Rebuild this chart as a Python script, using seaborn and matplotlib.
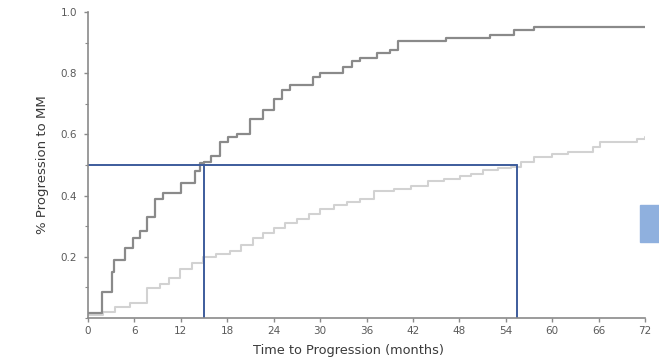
import matplotlib
matplotlib.use("Agg")
import matplotlib.pyplot as plt
import seaborn as sns
import pandas as pd
from matplotlib.patches import Rectangle
from matplotlib.ticker import MultipleLocator

# Dark curve (higher-risk group), step function
dark_t = [0, 1.8, 3.1, 3.4, 4.8, 5.8, 6.7, 7.6, 8.7, 9.7, 12.0, 13.8, 14.5, 15.0, 15.9,
          17.0, 18.1, 19.3, 21.0, 22.6, 24.0, 25.1, 26.1, 29.1, 30.0, 33.0, 34.1, 35.2,
          37.4, 39.0, 40.1, 46.2, 52.0, 55.0, 57.6, 72.0]
dark_p = [0.016, 0.084, 0.15, 0.19, 0.23, 0.26, 0.285, 0.33, 0.39, 0.41, 0.44, 0.48, 0.505, 0.51, 0.53,
          0.576, 0.59, 0.60, 0.65, 0.68, 0.715, 0.744, 0.76, 0.786, 0.80, 0.82, 0.84, 0.85,
          0.867, 0.877, 0.906, 0.916, 0.926, 0.94, 0.951, 0.951]

# Light curve (lower-risk group), step function
light_t = [0, 2.0, 3.5, 5.4, 7.6, 9.3, 10.5, 11.9, 13.4, 14.9, 16.5, 18.4, 19.8, 21.3, 22.6, 24.0,
           25.5, 27.0, 28.5, 30.0, 31.8, 33.5, 35.2, 36.9, 39.5, 41.7, 43.9, 46.0, 48.1, 49.5, 51.1,
           53.0, 54.6, 56.0, 57.6, 60.0, 62.0, 65.3, 66.2, 71.0, 72.0]
light_p = [0.01, 0.02, 0.035, 0.05, 0.097, 0.11, 0.13, 0.16, 0.18, 0.198, 0.21, 0.22, 0.24, 0.26, 0.278, 0.295,
           0.31, 0.323, 0.34, 0.356, 0.368, 0.38, 0.39, 0.414, 0.42, 0.43, 0.447, 0.455, 0.463, 0.472, 0.482,
           0.49, 0.495, 0.51, 0.527, 0.535, 0.544, 0.56, 0.576, 0.586, 0.59]

# Median reference lines
median_level = 0.5
median_dark = 15.0
median_light = 55.5

x_ticks = [0, 6, 12, 18, 24, 30, 36, 42, 48, 54, 60, 66, 72]
y_ticks = [0.2, 0.4, 0.6, 0.8, 1.0]
y_tick_labels = ["0.2", "0.4", "0.6", "0.8", "1.0"]

sns.set_theme(style="white")
plt.rcParams['font.family'] = ['DejaVu Sans']

fig = plt.figure(figsize=(6.59, 3.62), dpi=100)
ax = fig.add_axes([0.1335, 0.1215, 0.8455, 0.8455])

df_dark = pd.DataFrame({"t": dark_t, "p": dark_p})
df_light = pd.DataFrame({"t": light_t, "p": light_p})

sns.lineplot(data=df_light, x="t", y="p", ax=ax, estimator=None, sort=False,
             drawstyle="steps-post", color="#d2d2d2", linewidth=1.5)
sns.lineplot(data=df_dark, x="t", y="p", ax=ax, estimator=None, sort=False,
             drawstyle="steps-post", color="#8a8a8a", linewidth=1.6)

blue = "#3d5c9c"
ax.plot([0, median_light], [median_level, median_level], color=blue, lw=1.4)
ax.plot([median_dark, median_dark], [0, median_level], color=blue, lw=1.4)
ax.plot([median_light, median_light], [0, median_level], color=blue, lw=1.4)

ax.set_xlim(0, 72)
ax.set_ylim(0, 1.0)
ax.set_xticks(x_ticks)
ax.set_xticklabels([str(v) for v in x_ticks])
ax.set_yticks(y_ticks)
ax.set_yticklabels(y_tick_labels)
ax.yaxis.set_minor_locator(MultipleLocator(0.1))

for s in ["top", "right"]:
    ax.spines[s].set_visible(False)
for s in ["left", "bottom"]:
    ax.spines[s].set_color("#8a8a8a")
    ax.spines[s].set_linewidth(1.2)

ax.tick_params(axis="both", which="major", direction="out", length=3, width=1,
               color="#8a8a8a", labelsize=7.5, labelcolor="#5a5a5a",
               bottom=True, left=True)
ax.tick_params(axis="y", which="major", pad=5)
ax.tick_params(axis="x", which="major", pad=3)
ax.tick_params(axis="y", which="minor", direction="out", length=2, width=0.8,
               color="#8a8a8a", left=True)

ax.set_xlabel("Time to Progression (months)", fontsize=9.3, color="#3a3a3a")
ax.xaxis.set_label_coords(0.467, -0.085)
ax.set_ylabel("% Progression to MM", fontsize=9.5, color="#3a3a3a", labelpad=8)

fig.patches.append(Rectangle((640 / 659, 1 - 242 / 362), 19 / 659, 37 / 362,
                             transform=fig.transFigure, color="#8fb0de", zorder=5))

fig.savefig("out.png", dpi=100)
